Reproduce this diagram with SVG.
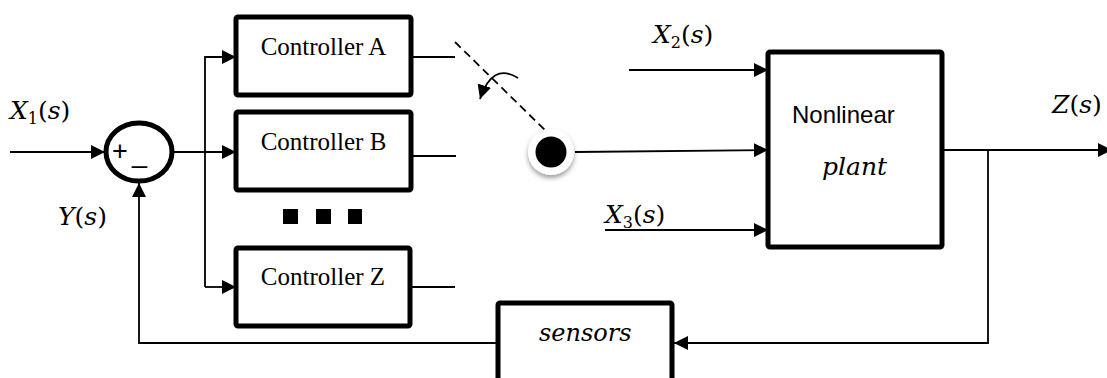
<svg xmlns="http://www.w3.org/2000/svg" width="1107" height="378" viewBox="0 0 1107 378">
<style>
.box{fill:#fff;stroke:#000;stroke-width:5}
.ln{fill:none;stroke:#000;stroke-width:1.8}
.ctl{font-family:"Liberation Serif",serif;font-size:25px;fill:#000;text-anchor:middle}
.math{font-family:"DejaVu Serif",serif;font-size:25px;font-style:italic;fill:#000}
.sub{font-style:normal;font-size:16px}
.up{font-style:normal}
.sans{font-family:"Liberation Sans",sans-serif;font-size:24px;fill:#000}
.pm{font-family:"Liberation Sans",sans-serif;font-size:27px;fill:#000}
</style>
<defs>
<marker id="arr" markerUnits="userSpaceOnUse" markerWidth="14" markerHeight="14" refX="14" refY="7" orient="auto">
<path d="M0,0 L14,7 L0,14 z" fill="#000"/>
</marker>
<filter id="sh" x="-50%" y="-50%" width="200%" height="200%">
<feDropShadow dx="0" dy="3" stdDeviation="2.5" flood-color="#000" flood-opacity="0.4"/>
</filter>
</defs>
<rect width="1107" height="378" fill="#fff"/>

<g id="connectors">
<line class="ln" x1="10" y1="152" x2="105" y2="152" marker-end="url(#arr)"/>
<line class="ln" x1="173" y1="152" x2="236" y2="152" marker-end="url(#arr)"/>
<polyline class="ln" points="205,287 205,57 236,57" marker-end="url(#arr)"/>
<line class="ln" x1="205" y1="287" x2="236" y2="287" marker-end="url(#arr)"/>
<line class="ln" x1="411" y1="57" x2="455" y2="57"/>
<line class="ln" x1="411" y1="156" x2="456" y2="156"/>
<line class="ln" x1="410" y1="287" x2="455" y2="287"/>
<line class="ln" x1="455" y1="42" x2="550" y2="135" stroke-dasharray="8 5"/>
<path class="ln" d="M518,78 Q492,62 480,99" marker-end="url(#arr)"/>
<line class="ln" x1="575" y1="152" x2="768" y2="150" marker-end="url(#arr)"/>
<line class="ln" x1="629" y1="70" x2="768" y2="70" marker-end="url(#arr)"/>
<line class="ln" x1="605" y1="230" x2="768" y2="230" marker-end="url(#arr)"/>
<line class="ln" x1="942" y1="150" x2="1112" y2="150" marker-end="url(#arr)"/>
<polyline class="ln" points="988,150 988,343 674,343" marker-end="url(#arr)"/>
<polyline class="ln" points="498,343 139,343 139,183" marker-end="url(#arr)"/>
</g>

<g id="sum">
<ellipse cx="139" cy="152" rx="33" ry="29" fill="#fff" stroke="#000" stroke-width="5"/>
<text x="112" y="160" class="pm">+</text>
<text x="132" y="162" class="pm">_</text>
</g>

<g id="controllerA">
<rect class="box" x="236" y="17" width="175" height="78" rx="2"/>
<text class="ctl" x="323.5" y="55">Controller A</text>
</g>
<g id="controllerB">
<rect class="box" x="236" y="112" width="175" height="78" rx="2"/>
<text class="ctl" x="323.5" y="150">Controller B</text>
</g>
<g id="dots">
<rect x="283" y="209" width="15" height="15" fill="#000"/>
<rect x="316" y="209" width="15" height="15" fill="#000"/>
<rect x="348" y="209" width="14" height="15" fill="#000"/>
</g>
<g id="controllerZ">
<rect class="box" x="236" y="248" width="174" height="78" rx="2"/>
<text class="ctl" x="323" y="285">Controller Z</text>
</g>

<g id="switch">
<circle cx="551" cy="152" r="23" fill="#fff" filter="url(#sh)"/>
<circle cx="551" cy="152" r="15.5" fill="#000"/>
</g>

<g id="plant">
<rect class="box" x="768" y="52" width="174" height="195" rx="2"/>
<text class="sans" x="792" y="123">Nonlinear</text>
<text class="math" x="822" y="175">plant</text>
</g>

<g id="sensors">
<rect class="box" x="498" y="303" width="174" height="90" rx="2"/>
<text class="math" x="539" y="341" style="font-size:24px">sensors</text>
</g>

<g id="labels">
<text class="math" x="10" y="119">X<tspan class="sub" dy="5">1</tspan><tspan class="up" dy="-5">(</tspan>s<tspan class="up">)</tspan></text>
<text class="math" x="58" y="225">Y<tspan class="up">(</tspan>s<tspan class="up">)</tspan></text>
<text class="math" x="653" y="43">X<tspan class="sub" dy="5">2</tspan><tspan class="up" dy="-5">(</tspan>s<tspan class="up">)</tspan></text>
<text class="math" x="605" y="223">X<tspan class="sub" dy="5">3</tspan><tspan class="up" dy="-5">(</tspan>s<tspan class="up">)</tspan></text>
<text class="math" x="1052" y="113">Z<tspan class="up">(</tspan>s<tspan class="up">)</tspan></text>
</g>
</svg>
